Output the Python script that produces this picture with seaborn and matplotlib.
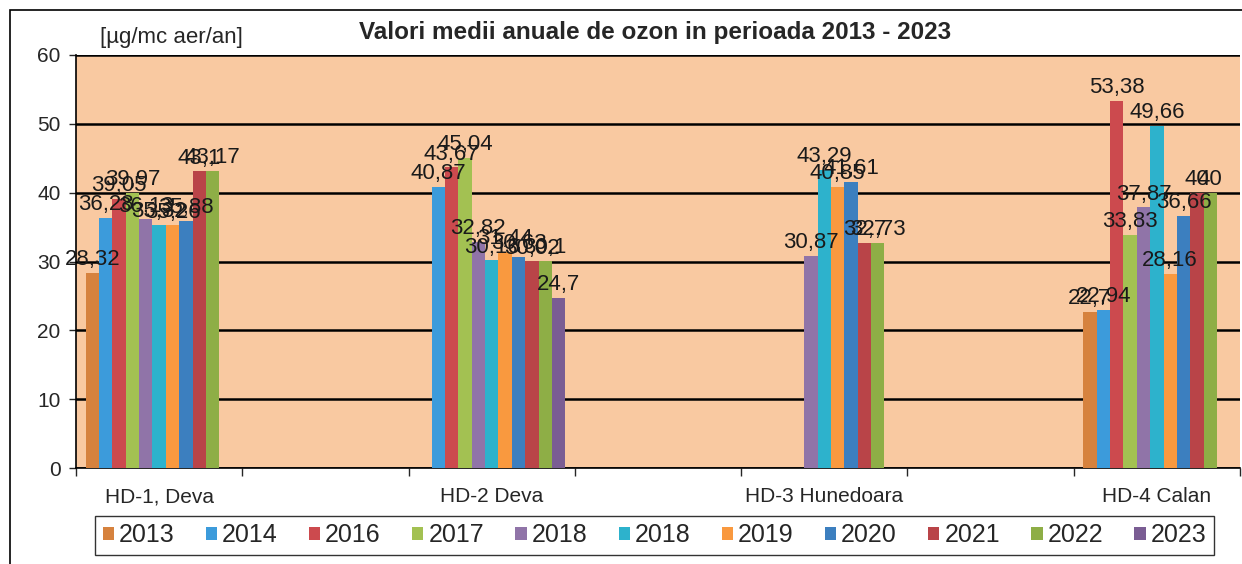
import numpy as np
import pandas as pd
import matplotlib.pyplot as plt
import seaborn as sns
from matplotlib.patches import Rectangle

# statii (cu categorii goale intre ele, ca in graficul original)
statii = ["HD-1, Deva", "_g1", "HD-2 Deva", "_g2", "HD-3 Hunedoara", "_g3", "HD-4 Calan"]
statii_date = ["HD-1, Deva", "HD-2 Deva", "HD-3 Hunedoara", "HD-4 Calan"]

# seriile (anul 2018 apare de doua ori in legenda originala)
ani = ["2013", "2014", "2016", "2017", "2018", "2018 ", "2019", "2020", "2021", "2022", "2023"]
culori = ["#D6823E", "#3C9BDB", "#CC4A4E", "#A3C152", "#9074A8", "#2DB2CC",
          "#F9993F", "#3C7FBF", "#B94448", "#8EAE46", "#7A5D93"]

hd1 = [28.32, 36.28, 39.05, 39.97, 36.13, 35.32, 35.26, 35.88, 43.1, 43.17, None]
hd2 = [None, 40.87, 43.67, 45.04, 32.82, 30.16, 31.44, 30.63, 30.02, 30.1, 24.7]
hd3 = [None, None, None, None, 30.87, 43.29, 40.85, 41.61, 32.7, 32.73, None]
hd4 = [22.7, 22.94, 53.38, 33.83, 37.87, 49.66, 28.16, 36.66, 40, 40, None]

randuri = []
for st, vals in zip(statii_date, [hd1, hd2, hd3, hd4]):
    for an, v in zip(ani, vals):
        if v is not None:
            randuri.append({"statie": st, "an": an, "valoare": v})
df = pd.DataFrame(randuri)

sns.set_style("white")
plt.rcParams["font.family"] = ["Liberation Sans", "DejaVu Sans"]

fig = plt.figure(figsize=(12.42, 5.64), dpi=100)
ax = fig.add_axes([76 / 1242, 1 - 468 / 564, (1240 - 76) / 1242, (468 - 55) / 564])
ax.set_facecolor("#F9C9A1")

sns.barplot(data=df, x="statie", y="valoare", hue="an", order=statii,
            hue_order=ani, palette=culori, width=0.885, saturation=1,
            errorbar=None, ax=ax, zorder=3, linewidth=0)

for cont in ax.containers:
    ax.bar_label(cont, fmt=lambda v: f"{v:g}".replace(".", ","),
                 padding=2, fontsize=16, color="#1a1a1a", zorder=4)

ax.set_ylim(0, 60)
ax.set_xlim(-0.5, 6.5)
ax.set_yticks(range(0, 61, 10))
ax.tick_params(axis="y", labelsize=15, length=5, width=1, direction="out", pad=6, left=True)
ax.yaxis.grid(True, color="black", linewidth=1.8, zorder=1)
ax.set_axisbelow(True)

ax.set_xticks(range(7))
ax.set_xticklabels([s if not s.startswith("_") else "" for s in statii], fontsize=15)
ax.tick_params(axis="x", length=0, pad=14)
ax.set_xticks(np.arange(-0.5, 6.6, 1), minor=True)
ax.tick_params(axis="x", which="minor", length=6, width=1, direction="out", bottom=True)

ax.set_xlabel("")
ax.set_ylabel("")
for s in ["top", "right"]:
    ax.spines[s].set_visible(False)
for s in ["left", "bottom"]:
    ax.spines[s].set_color("black")
    ax.spines[s].set_linewidth(1.2)

handles, labels = ax.get_legend_handles_labels()
ax.get_legend().remove()
fig.legend(handles, [l.strip() for l in labels], loc="upper left",
           bbox_to_anchor=(95 / 1242, 1 - 516 / 564), ncol=11, fontsize=18,
           frameon=True, fancybox=False, edgecolor="black",
           handlelength=0.45, handleheight=0.45, handletextpad=0.2,
           columnspacing=1.25, borderpad=0.3, borderaxespad=0)

fig.text(655 / 1242, 1 - 33 / 564, "Valori medii anuale de ozon in perioada 2013 - 2023",
         ha="center", va="center", fontsize=17.5, fontweight="bold")
fig.text(100 / 1242, 1 - 38 / 564, "[µg/mc aer/an]", ha="left", va="center", fontsize=16)

fig.patches.append(Rectangle((10 / 1242, -0.1), 1.2, 1 - 10 / 564 + 0.1,
                             transform=fig.transFigure, fill=False,
                             edgecolor="black", linewidth=1.2))

fig.savefig("out.png", dpi=100)
